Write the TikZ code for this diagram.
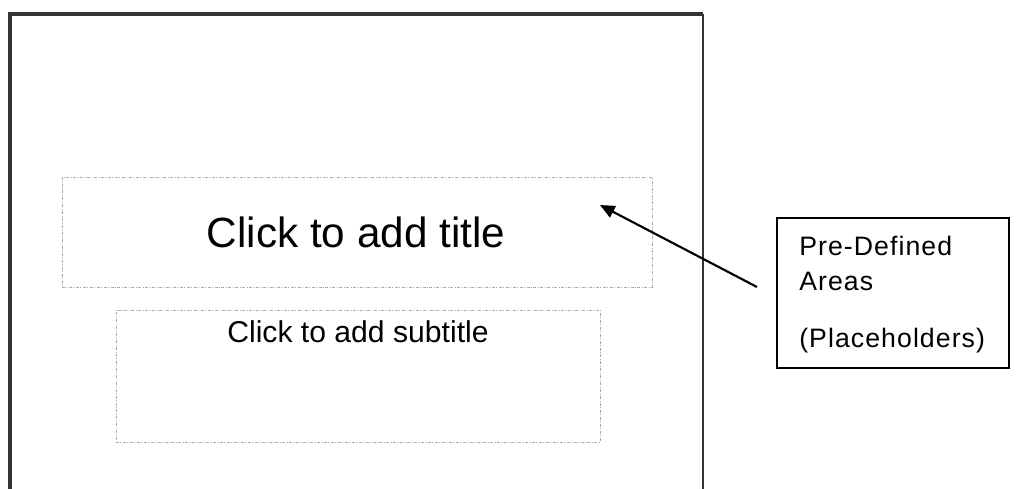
\documentclass[tikz,border=0pt]{standalone}
\usepackage{fontspec}
\setmainfont{Liberation Sans}
\usetikzlibrary{arrows.meta}
\definecolor{slideline}{HTML}{333333}
\definecolor{phline}{HTML}{A8A8A8}
\tikzset{
  placeholder/.style={draw=phline, line width=0.75pt, dash pattern=on 2.25pt off 1.1pt on 0.75pt off 1.1pt, inner sep=0pt},
  calloutbox/.style={draw=black, line width=1pt, inner sep=0pt, minimum width=174pt, minimum height=112.5pt},
  callouttext/.style={anchor=base west, inner sep=0pt, font=\fontsize{20pt}{24pt}\selectfont\addfontfeature{LetterSpace=4}},
  pointer/.style={draw=black, line width=1.6pt, -{Triangle[length=11pt,width=9.5pt]}}
}
\begin{document}
\begin{tikzpicture}[x=0.75pt,y=-0.75pt]
\useasboundingbox (0,0) rectangle (1022,489);
% slide outline (open at bottom)
\coordinate (sbl) at (10,489);
\coordinate (stl) at (10,14);
\coordinate (str) at (703,14);
\coordinate (sbr) at (703,489);
\draw[slideline, line width=2.4pt] (sbl) -- (stl) -- (str);
\draw[slideline, line width=1.7pt] (str) -- (sbr);
% title placeholder
\node[placeholder, minimum width=442.5pt, minimum height=82.5pt] (title) at (357,232) {};
\node[inner sep=0pt, anchor=base, font=\fontsize{31.7pt}{36pt}\selectfont] (titletext) at (356,247) {Click to add title};
% subtitle placeholder
\node[placeholder, minimum width=363pt, minimum height=99pt] (subtitle) at (358,376) {};
\node[inner sep=0pt, anchor=base, font=\fontsize{22.6pt}{26pt}\selectfont] (subtext) at (358,342) {Click to add subtitle};
% callout
\node[calloutbox] (callout) at (893,293) {};
\node[callouttext] (l1) at (799,255) {Pre-Defined};
\node[callouttext] (l2) at (799,290) {Areas};
\node[callouttext] (l3) at (799,347) {(Placeholders)};
% arrow
\coordinate (tail) at (757,287);
\coordinate (tip) at (600,205);
\draw[pointer] (tail) -- (tip);
\end{tikzpicture}
\end{document}
